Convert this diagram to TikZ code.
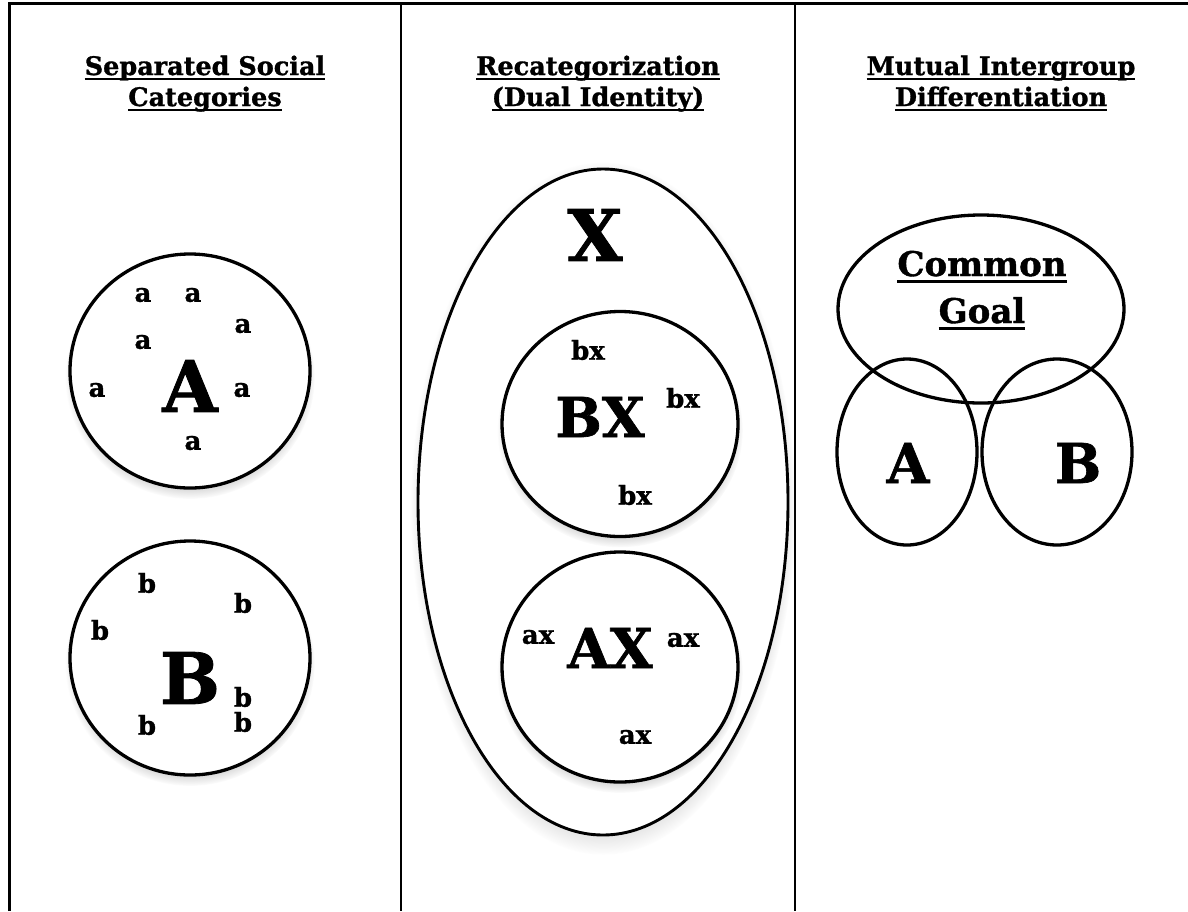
\documentclass[tikz,border=0pt]{standalone}
\usepackage{fontspec}
\setmainfont{DejaVu Serif}[BoldFeatures={FakeBold=1.2}]
\usetikzlibrary{shapes.geometric,shadows,fadings}
\newsavebox{\hdbox}
\newcommand{\hdul}[1]{\sbox{\hdbox}{#1}\rlap{\rule[-0.2em]{\wd\hdbox}{0.075em}}\usebox{\hdbox}}
\tikzset{
  grp/.style  = {ellipse, draw, line width=3.3pt, fill=white, inner sep=0pt,
                 circular drop shadow={shadow xshift=0pt, shadow yshift=-6pt,
                 shadow scale=1.04, opacity=0.5}},
  ring/.style = {ellipse, draw, line width=3.3pt, inner sep=0pt},
  hd/.style   = {anchor=base, inner sep=0pt, font=\fontsize{25.5}{30}\selectfont\bfseries},
  big/.style  = {inner sep=0pt, font=\fontsize{71}{71}\selectfont\bfseries},
  mid/.style  = {inner sep=0pt, font=\fontsize{55}{55}\selectfont\bfseries},
  sm/.style   = {inner sep=0pt, font=\fontsize{26}{26}\selectfont\bfseries},
}
\begin{document}
\begin{tikzpicture}[x=1pt, y=-1pt]
  \useasboundingbox (0,0) rectangle (1188,911);
  % table frame
  \draw[line width=3.2pt] (9.5,911) -- (9.5,3.5) -- (1188,3.5);
  \draw[line width=2.2pt] (401,3.5) -- (401,911);
  \draw[line width=2.2pt] (795,3.5) -- (795,911);

  % column headings
  \node[hd] (h1a) at (205,75)  {\hdul{Separated Social}};
  \node[hd] (h1b) at (205,106) {\hdul{Categories}};
  \node[hd] (h2a) at (598,75)  {\hdul{Recategorization}};
  \node[hd] (h2b) at (598,106) {\hdul{(Dual Identity)}};
  \node[hd] (h3a) at (1001,75)  {\hdul{Mutual Intergroup}};
  \node[hd] (h3b) at (1001,106) {\hdul{Differentiation}};

  % separated groups A and B
  \node[grp, minimum width=240pt, minimum height=234pt] (ga) at (190,371) {};
  \node[big] (la) at (190,386) {A};
  \foreach \px/\py in {143/295, 193/295, 243/326, 143/342, 97/390, 242/390, 193/443}
    \node[sm] at (\px,\py) {a};
  \node[grp, minimum width=240pt, minimum height=234pt] (gb) at (190,658) {};
  \node[big] (lb) at (190,678) {B};
  \foreach \px/\py in {147/583, 243/603, 100/630, 243/697, 243/722, 147/725}
    \node[sm] at (\px,\py) {b};

  % common identity X holding BX and AX
  \node[grp, line width=2.9pt, minimum width=370pt, minimum height=666pt] (gx) at (603,502) {};
  \node[big] (lx) at (595,235) {X};
  \node[grp, minimum width=236pt, minimum height=225pt] (gbx) at (620,424) {};
  \node[mid] (lbx) at (600,417) {BX};
  \foreach \px/\py in {588/350, 683/398, 635/495}
    \node[sm] at (\px,\py) {bx};
  \node[grp, minimum width=236pt, minimum height=230pt] (gax) at (620,667) {};
  \node[mid] (lax) at (610,648) {AX};
  \foreach \px/\py in {538/637, 683/640, 635/737}
    \node[sm] at (\px,\py) {ax};

  % common goal over A and B
  \node[ring, minimum width=286pt, minimum height=188pt] (cg) at (981,309) {};
  \node[hd, font=\fontsize{34}{34}\selectfont\bfseries] (cg1) at (982,276) {\hdul{Common}};
  \node[hd, font=\fontsize{34}{34}\selectfont\bfseries] (cg2) at (982,323) {\hdul{Goal}};
  \node[ring, minimum width=140pt, minimum height=186pt] (ra) at (907,452) {};
  \node[ring, minimum width=150pt, minimum height=186pt] (rb) at (1057,452) {};
  \node[mid] (lra) at (908,463) {A};
  \node[mid] (lrb) at (1078,463) {B};
\end{tikzpicture}
\end{document}
